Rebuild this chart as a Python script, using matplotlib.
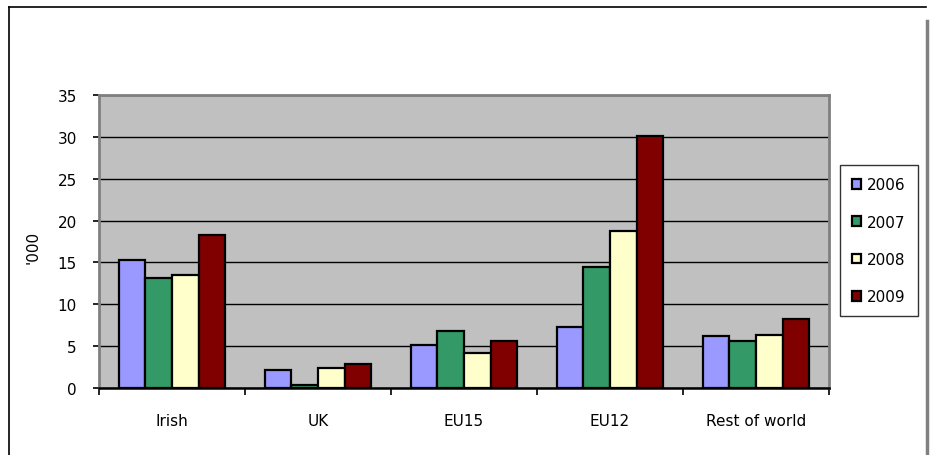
import matplotlib
matplotlib.use("Agg")
import matplotlib.pyplot as plt
import numpy as np
from matplotlib.lines import Line2D

plt.rcParams['font.family'] = ['DejaVu Sans']

categories = ["Irish", "UK", "EU15", "EU12", "Rest of world"]
series_names = ["2006", "2007", "2008", "2009"]
v2006 = [15.3, 2.15, 5.1, 7.3, 6.2]
v2007 = [13.1, 0.3, 6.85, 14.4, 5.65]
v2008 = [13.5, 2.4, 4.15, 18.75, 6.3]
v2009 = [18.3, 2.85, 5.65, 30.15, 8.3]
yticks = [0, 5, 10, 15, 20, 25, 30, 35]
colors = ["#9999FF", "#339966", "#FFFFCC", "#800000"]

FS = 11
W, H = 932, 456
fig = plt.figure(figsize=(W / 100, H / 100), dpi=100)
fig.patch.set_facecolor("white")

ax = fig.add_axes([99 / W, (H - 389) / H, 730 / W, 293 / H])
ax.set_facecolor("#C0C0C0")

x = np.arange(len(categories))
bw = 0.183
data = [v2006, v2007, v2008, v2009]
for i, (vals, c, name) in enumerate(zip(data, colors, series_names)):
    ax.bar(x + (i - 1.5) * bw, vals, bw, color=c, edgecolor="black",
           linewidth=1.6, label=name, zorder=3)

ax.set_xlim(-0.5, len(categories) - 0.5)
ax.set_ylim(0, 35)
ax.set_yticks(yticks)
ax.set_yticklabels([str(t) for t in yticks], fontsize=FS)
ax.yaxis.grid(True, color="black", linewidth=1.0, zorder=1)
ax.set_axisbelow(True)

ax.set_xticks(np.arange(len(categories) + 1) - 0.5)
ax.set_xticklabels([])
ax.set_xticks(x, minor=True)
ax.set_xticklabels(categories, minor=True, fontsize=FS)
ax.tick_params(axis="x", which="major", length=5, width=1.2, direction="out")
ax.tick_params(axis="x", which="minor", length=0, pad=18)
ax.tick_params(axis="y", length=4, width=1.2, direction="out", pad=12)

for s in ["top", "right", "left"]:
    ax.spines[s].set_color("#808080")
    ax.spines[s].set_linewidth(2)
ax.spines["bottom"].set_color("black")
ax.spines["bottom"].set_linewidth(1.8)

fig.text(33 / W, 1 - 247 / H, "'000", rotation=90, fontsize=FS,
         ha="center", va="center")

leg = fig.legend(loc="upper left", bbox_to_anchor=(840 / W, 1 - 166 / H),
                 fontsize=FS, frameon=True, fancybox=False, edgecolor="black",
                 handlelength=0.6, handleheight=0.6, handletextpad=0.35,
                 labelspacing=1.46, borderpad=0.8, borderaxespad=0)
leg.get_frame().set_linewidth(1.0)

# outer chart border
fig.add_artist(Line2D([9 / W, 926 / W], [1 - 8 / H, 1 - 8 / H], color="black",
                      linewidth=1.2, transform=fig.transFigure))
fig.add_artist(Line2D([9 / W, 9 / W], [1 - 8 / H, 0], color="black",
                      linewidth=1.2, transform=fig.transFigure))
fig.add_artist(Line2D([927 / W, 927 / W], [1 - 22 / H, 0], color="#808080",
                      linewidth=2.5, transform=fig.transFigure))

fig.savefig("out.png", dpi=100)
